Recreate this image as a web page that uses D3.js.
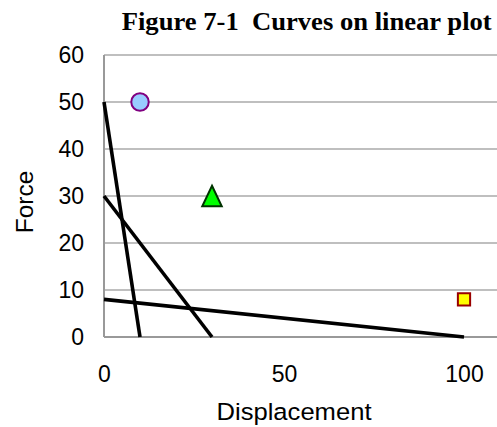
<!DOCTYPE html>
<html>
<head>
<meta charset="utf-8">
<script src="https://cdn.jsdelivr.net/npm/d3@7"></script>
<style>
  body { margin: 0; background: #fff; }
  svg { display: block; }
</style>
</head>
<body>
<div id="chart"></div>
<script>
var width = 497, height = 427;

// straight curves, each as [x, y] end points
var curves = [
  [[0, 50], [10, 0]],
  [[0, 30], [30, 0]],
  [[0, 8], [100, 0]]
];
var markers = [
  {x: 10, y: 50, shape: "circle", fill: "#99ccff", stroke: "#800080"},
  {x: 30, y: 30, shape: "triangle", fill: "#00ff00", stroke: "#003300"},
  {x: 100, y: 8, shape: "square", fill: "#ffff00", stroke: "#990000"}
];
var xTicks = [0, 50, 100];
var yTicks = [0, 10, 20, 30, 40, 50, 60];

var svg = d3.select("#chart").append("svg")
    .attr("width", width)
    .attr("height", height);

var x = d3.scaleLinear().domain([0, 110]).range([104, 500]);
var y = d3.scaleLinear().domain([0, 60]).range([337, 55]);

// grid
svg.append("g")
    .selectAll("line")
    .data(yTicks)
  .enter().append("line")
    .attr("x1", x(0)).attr("x2", width)
    .attr("y1", function(d) { return y(d); })
    .attr("y2", function(d) { return y(d); })
    .attr("stroke", function(d) { return d === 0 ? "#999" : "#aaa"; })
    .attr("stroke-width", function(d) { return d === 0 ? 2 : 1.3; });

svg.append("line")
    .attr("x1", x(0)).attr("x2", x(0))
    .attr("y1", y(60)).attr("y2", y(0))
    .attr("stroke", "#999")
    .attr("stroke-width", 2);

// axes labels
var yAxis = d3.axisLeft(y).tickValues(yTicks).tickSize(0).tickPadding(20);
svg.append("g")
    .attr("transform", "translate(" + x(0) + ",0)")
    .call(yAxis)
    .call(function(g) { g.select(".domain").remove(); })
    .selectAll("text")
    .attr("font-family", "Liberation Sans, Arial, sans-serif")
    .attr("font-size", 23)
    .attr("fill", "#000");

var xAxis = d3.axisBottom(x).tickValues(xTicks).tickSize(0).tickPadding(29);
svg.append("g")
    .attr("transform", "translate(0," + y(0) + ")")
    .call(xAxis)
    .call(function(g) { g.select(".domain").remove(); })
    .selectAll("text")
    .attr("font-family", "Liberation Sans, Arial, sans-serif")
    .attr("font-size", 23)
    .attr("fill", "#000");

// curves
var line = d3.line()
    .x(function(d) { return x(d[0]); })
    .y(function(d) { return y(d[1]); });

svg.append("g")
    .selectAll("path")
    .data(curves)
  .enter().append("path")
    .attr("d", line)
    .attr("fill", "none")
    .attr("stroke", "#000")
    .attr("stroke-width", 3.6);

// markers; triangle is centred on its bounding box like Excel does
var boxTriangle = {
  draw: function(context, size) {
    var h = Math.sqrt(size) * 1.45, w = h * 0.95;
    context.moveTo(0, -h / 2);
    context.lineTo(w / 2, h / 2);
    context.lineTo(-w / 2, h / 2);
    context.closePath();
  }
};
var symbols = {circle: d3.symbolCircle, triangle: boxTriangle, square: d3.symbolSquare};
var sizes = {circle: 240, triangle: 200, square: 150};
svg.append("g")
    .selectAll("path")
    .data(markers)
  .enter().append("path")
    .attr("d", function(d) { return d3.symbol().type(symbols[d.shape]).size(sizes[d.shape])(); })
    .attr("transform", function(d) { return "translate(" + x(d.x) + "," + y(d.y) + ")"; })
    .attr("fill", function(d) { return d.fill; })
    .attr("stroke", function(d) { return d.stroke; })
    .attr("stroke-width", 2);

// titles
svg.append("text")
    .attr("x", 306.7).attr("y", 29.5)
    .attr("text-anchor", "middle")
    .attr("font-family", "Liberation Serif, Times New Roman, serif")
    .attr("font-weight", "bold")
    .attr("font-size", 24.5)
    .attr("textLength", 370)
    .attr("lengthAdjust", "spacingAndGlyphs")
    .style("white-space", "pre")
    .text("Figure 7-1  Curves on linear plot");

svg.append("text")
    .attr("x", 294).attr("y", 420)
    .attr("text-anchor", "middle")
    .attr("font-family", "Liberation Sans, Arial, sans-serif")
    .attr("font-size", 24.5)
    .attr("textLength", 155)
    .attr("lengthAdjust", "spacingAndGlyphs")
    .text("Displacement");

svg.append("text")
    .attr("transform", "translate(33,202) rotate(-90)")
    .attr("text-anchor", "middle")
    .attr("font-family", "Liberation Sans, Arial, sans-serif")
    .attr("font-size", 24.5)
    .text("Force");
</script>
</body>
</html>
